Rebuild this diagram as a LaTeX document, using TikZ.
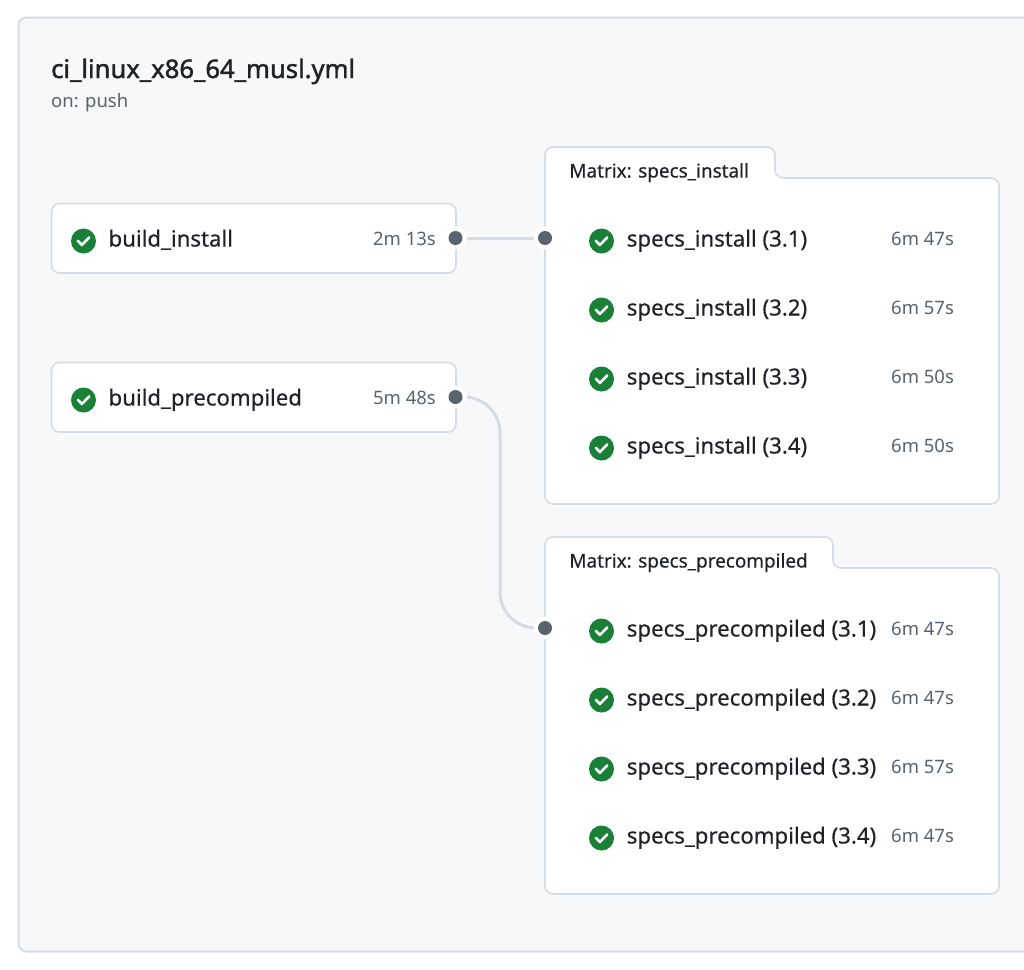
\documentclass[tikz,border=0pt]{standalone}
\usepackage{fontspec}
\setmainfont{Noto Sans}
\newfontfamily\titlefont[FakeBold=1.6]{Noto Sans}
\newfontfamily\jobfont[FakeBold=0.4]{Noto Sans}
\definecolor{panelbg}{HTML}{F6F8FA}
\definecolor{edgegray}{HTML}{D5DCE4}
\definecolor{inkdark}{HTML}{1F2328}
\definecolor{inkmuted}{HTML}{59636E}
\definecolor{okgreen}{HTML}{1A7F37}
\definecolor{dotgray}{HTML}{59636E}
\tikzset{
  jobname/.style={anchor=base west,inner sep=0pt,text=inkdark,font=\fontsize{22.2}{26}\selectfont\jobfont},
  jobtime/.style={anchor=base west,inner sep=0pt,text=inkmuted,font=\fontsize{18.5}{22}\selectfont},
  jobtimeright/.style={jobtime,anchor=base east},
  matrixname/.style={anchor=base west,inner sep=0pt,text=inkdark,font=\fontsize{18.9}{22}\selectfont\jobfont},
  okmark/.style={circle,fill=okgreen,minimum size=25pt,inner sep=0pt,path picture={
    \draw[white,line width=2.6pt,line cap=round,line join=round]
      ([shift={(-5.6pt,0.2pt)}]path picture bounding box.center)--
      ([shift={(-1.6pt,-4pt)}]path picture bounding box.center)--
      ([shift={(5.8pt,3.6pt)}]path picture bounding box.center);}},
  portring/.style={circle,fill=white,minimum size=23pt,inner sep=0pt},
  portdot/.style={circle,fill=dotgray,minimum size=14pt,inner sep=0pt},
  jobbox/.style={draw=edgegray,fill=white,line width=1.6pt,rounded corners=8pt},
  wire/.style={draw=edgegray,line width=3pt}
}
\begin{document}
\begin{tikzpicture}[x=1pt,y=-1pt]
\useasboundingbox (0,0) rectangle (1024,969);
\clip (0,0) rectangle (1024,969);
% outer panel
\draw[fill=panelbg,draw=edgegray,line width=2pt,rounded corners=8pt] (1060,17.5)--(18.5,17.5)--(18.5,951.5)--(1060,951.5);
\node[anchor=base west,inner sep=0pt,text=inkdark,font=\fontsize{25.6}{30}\selectfont\titlefont] (title) at (51,78) {ci\_linux\_x86\_64\_musl.yml};
\node[jobtime] (trigger) at (51,107) {on: push};
% left jobs
\draw[jobbox] (51.5,203.5) rectangle (456,273);
\draw[jobbox] (51.5,362.5) rectangle (456,432);
% matrix boxes
\draw[jobbox] (545,504)--(545,147)--(775,147)--(775,178)--(999,178)--(999,504)--cycle;
\draw[jobbox] (545,894)--(545,537)--(833,537)--(833,568)--(999,568)--(999,894)--cycle;
% wires
\coordinate (porta) at (455.5,238);
\coordinate (portb) at (545,238);
\coordinate (portc) at (455.5,397);
\coordinate (portd) at (545,628);
\draw[wire] (porta)--(portb);
\draw[wire,rounded corners=36pt] (portc)-|(500,628)--(portd);
% ports
\node[portring] (ringa) at (porta) {};
\node[portring] (ringb) at (portb) {};
\node[portring] (ringc) at (portc) {};
\node[portring] (ringd) at (portd) {};
\node[portdot] (dota) at (porta) {};
\node[portdot] (dotb) at (portb) {};
\node[portdot] (dotc) at (portc) {};
\node[portdot] (dotd) at (portd) {};
% left job labels
\node[okmark] (oka) at (83.5,241) {};
\node[jobname] (builda) at (108.4,246.5) {build\_install};
\node[jobtimeright] (timea) at (436,245) {2m 13s};
\node[okmark] (okb) at (83.5,400) {};
\node[jobname] (buildb) at (108.4,405.5) {build\_precompiled};
\node[jobtimeright] (timeb) at (436,404) {5m 48s};
% first matrix
\node[matrixname] (matrixa) at (569.2,177.5) {Matrix: specs\_install};
\node[okmark] (oka1) at (601.5,241) {};
\node[jobname] (insta) at (626.6,246.5) {specs\_install (3.1)};
\node[jobtime] (tinsta) at (891,245) {6m 47s};
\node[okmark] (oka2) at (601.5,310) {};
\node[jobname] (instb) at (626.6,315.5) {specs\_install (3.2)};
\node[jobtime] (tinstb) at (891,314) {6m 57s};
\node[okmark] (oka3) at (601.5,379) {};
\node[jobname] (instc) at (626.6,384.5) {specs\_install (3.3)};
\node[jobtime] (tinstc) at (891,383) {6m 50s};
\node[okmark] (oka4) at (601.5,448) {};
\node[jobname] (instd) at (626.6,453.5) {specs\_install (3.4)};
\node[jobtime] (tinstd) at (891,452) {6m 50s};
% second matrix
\node[matrixname] (matrixb) at (569.2,567.5) {Matrix: specs\_precompiled};
\node[okmark] (okb1) at (601.5,631) {};
\node[jobname] (preca) at (626.6,636.5) {specs\_precompiled (3.1)};
\node[jobtime] (tpreca) at (891,635) {6m 47s};
\node[okmark] (okb2) at (601.5,700) {};
\node[jobname] (precb) at (626.6,705.5) {specs\_precompiled (3.2)};
\node[jobtime] (tprecb) at (891,704) {6m 47s};
\node[okmark] (okb3) at (601.5,769) {};
\node[jobname] (precc) at (626.6,774.5) {specs\_precompiled (3.3)};
\node[jobtime] (tprecc) at (891,773) {6m 57s};
\node[okmark] (okb4) at (601.5,838) {};
\node[jobname] (precd) at (626.6,843.5) {specs\_precompiled (3.4)};
\node[jobtime] (tprecd) at (891,842) {6m 47s};
\end{tikzpicture}
\end{document}
